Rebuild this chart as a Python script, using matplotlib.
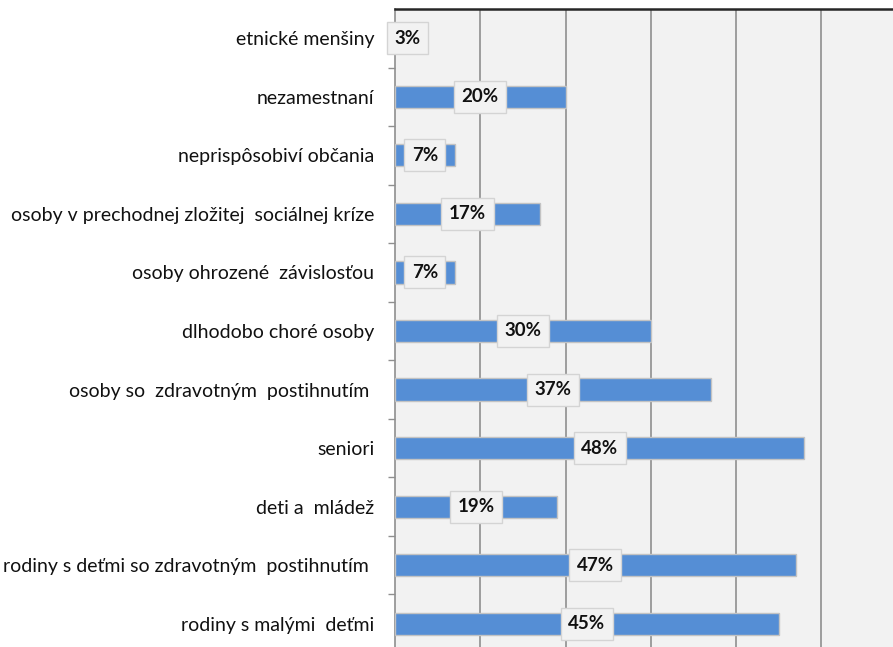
import matplotlib
matplotlib.use("Agg")
import matplotlib.pyplot as plt
import numpy as np
from matplotlib.ticker import FixedLocator

# Kategórie cieľových skupín (zhora nadol) a ich podiely v %
categories = [
    "etnické menšiny",
    "nezamestnaní",
    "neprispôsobiví občania",
    "osoby v prechodnej zložitej  sociálnej kríze",
    "osoby ohrozené  závislosťou",
    "dlhodobo choré osoby",
    "osoby so  zdravotným  postihnutím ",
    "seniori",
    "deti a  mládež",
    "rodiny s deťmi so zdravotným  postihnutím ",
    "rodiny s malými  deťmi",
]
values = [3, 20, 7, 17, 7, 30, 37, 48, 19, 47, 45]
x_gridlines = [10, 20, 30, 40, 50]

BAR_COLOR = "#558ed5"
BAR_EDGE = "#c3c3c3"
PLOT_BG = "#f2f2f2"
GRID_COLOR = "#8f8f8f"

plt.rcParams["font.family"] = ["Lato", "DejaVu Sans"]

W, H = 893, 647
fig = plt.figure(figsize=(W / 100, H / 100), dpi=100)
fig.patch.set_facecolor("white")

left, top, bottom = 395, 9, 653
ax = fig.add_axes([left / W, 1 - bottom / H, (W - left) / W, (bottom - top) / H])
ax.set_facecolor(PLOT_BG)

y = np.arange(len(categories))
ax.barh(y, values, height=0.38, color=BAR_COLOR, edgecolor=BAR_EDGE, linewidth=1.0, zorder=3)

for yi, v in zip(y, values):
    ax.text(v / 2, yi, f"{v}%", ha="center", va="center", fontsize=13.5, fontweight="bold",
            color="#111111", zorder=4,
            bbox=dict(boxstyle="square,pad=0.4", facecolor=PLOT_BG, edgecolor="#d4d4d4", linewidth=1.0))

ax.set_xlim(0, 58.4)
ax.set_ylim(len(categories) - 0.5, -0.5)

ax.xaxis.set_major_locator(FixedLocator(x_gridlines))
ax.grid(axis="x", color=GRID_COLOR, linewidth=1.2, zorder=1)
ax.tick_params(axis="x", length=0, labelbottom=False)

ax.set_yticks(y)
ax.set_yticklabels(categories, fontsize=14, color="#111111")
ax.tick_params(axis="y", which="major", length=0, pad=15)
ax.yaxis.set_minor_locator(FixedLocator(np.arange(0.5, len(categories) - 0.5, 1.0)))
ax.tick_params(axis="y", which="minor", length=5, width=1.0, color=GRID_COLOR, direction="out")

for side in ("right", "bottom"):
    ax.spines[side].set_visible(False)
ax.spines["left"].set_color(GRID_COLOR)
ax.spines["left"].set_linewidth(1.2)
ax.spines["top"].set_color("#262626")
ax.spines["top"].set_linewidth(1.8)

fig.savefig("out.png", dpi=100, facecolor="white")
